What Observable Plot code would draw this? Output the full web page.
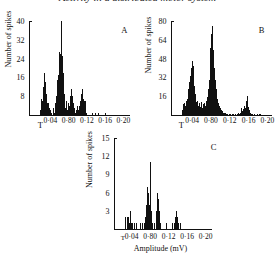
<!DOCTYPE html>
<html>
<head>
<meta charset="utf-8">
<script src="https://cdn.jsdelivr.net/npm/d3@7"></script>
<script src="https://cdn.jsdelivr.net/npm/@observablehq/plot@0.6"></script>
<style>
  html, body { margin: 0; padding: 0; background: #fff; }
  #wrap { position: relative; width: 275px; height: 257px; overflow: hidden; background: #fff; }
  #wrap > .p { position: absolute; }
  #title { position: absolute; left: 0; width: 275px; top: -7px; text-align: center;
    font: italic 10.5px "Liberation Serif", serif; line-height: 1; color: #222; white-space: nowrap; }
</style>
</head>
<body>
<div id="wrap"><div id="title">Activity in a distributed motor system</div></div>
<script>
// ---- data ----
const binWidth = 0.002; // mV
const startA = 0.018;
const countsA = [2,7,6,12,18,14,14,9,5,5,3,2,1,0,3,1,2,5,8,15,17,27,26,40,25,18,9,4,3,6,2,5,4,8,11,8,5,3,1,0,2,4,2,4,6,9,11,7,6,6,2,1,0,0,0,0,0,1,0,0,1,0,0,0,1,0,0,0,0,0,0,1];
const startB = 0.020;
const countsB = [4,9,10,8,12,14,22,28,33,40,46,42,35,25,18,11,12,8,10,7,11,6,9,10,8,12,15,22,30,38,57,69,76,55,40,30,22,14,10,8,6,4,3,2,2,1,2,1,1,0,1,1,0,1,1,0,1,0,1,2,1,2,4,6,3,5,8,6,12,16,7,4,2,1,1,0,1,0,1,0,1,0,1,1];
const startC = 0.026;
const countsC = [2,2,0,2,2,1,3,1,1,0,1,0,1,0,0,1,0,1,0,1,0,1,2,4,7,6,4,11,6,3,1,0,1,0,3,6,5,3,1,0,0,1,0,0,0,1,0,0,0,0,0,1,0,1,1,2,3,2,1,0,1];
const thresholdA = 0.018, thresholdB = 0.017, thresholdC = 0.021;
const yTicksA = [8,16,24,32,40];
const yTicksB = [16,32,48,64,80];
const yTicksC = [3,6,9,12,15];
const xTicks = [0.04,0.08,0.12,0.16,0.20];
const xTickLabels = ["0·04","0·80","0·12","0·16","0·20"];
const yLabel = "Number of spikes";
const xLabel = "Amplitude (mV)";
const panelLetters = ["A","B","C"];

const ink = "#111";

function panel(o) {
  const data = o.counts.map((c, i) => ({x1: o.start + i*binWidth, x2: o.start + (i+1)*binWidth, n: c})).filter(d => d.n > 0);
  const yMax = o.yTicks[o.yTicks.length-1];
  const marks = [
    Plot.rectY(data, {x1: "x1", x2: "x2", y: "n", fill: ink, shapeRendering: "crispEdges"}),
    Plot.ruleY([0], {stroke: ink, strokeWidth: 1}),
    Plot.ruleX([o.xDomain[0]], {y1: 0, y2: yMax, stroke: ink, strokeWidth: 1}),
    Plot.axisY(o.yTicks, {tickSize: 0, tickPadding: 5, label: null, fontSize: 8, fill: ink}),
    Plot.axisY([yMax], {tickSize: -3, text: null, label: null, stroke: ink}),
    Plot.axisX(xTicks, {tickSize: 0, tickPadding: o.xPad, label: null, fontSize: 7.5, fill: ink,
      tickFormat: d => xTickLabels[xTicks.indexOf(d)]}),
    Plot.text([{x: o.thr}], {x: "x", y: () => 0, text: () => "T", dy: o.tDy, fontSize: o.tSize, fill: ink}),
    Plot.text([o.letter], {frameAnchor: "top-right", dx: o.letterDx, dy: 5, fontSize: 8.5, fill: ink}),
    Plot.text([yLabel], {frameAnchor: "left", rotate: -90, dx: o.ylDx, dy: o.ylDy, fontSize: 8, fill: ink})
  ];
  if (o.xLabel) marks.push(Plot.text([o.xLabel], {frameAnchor: "bottom", dy: 21, dx: -3, fontSize: 8, fill: ink}));
  const svg = Plot.plot({
    width: o.width, height: o.height,
    marginLeft: o.mL, marginRight: o.mR, marginTop: o.mT, marginBottom: o.mB,
    style: {fontFamily: "'Liberation Serif', serif", fontSize: "8px", background: "transparent", color: ink, overflow: "visible"},
    x: {domain: o.xDomain, label: null},
    y: {domain: [0, yMax], label: null},
    marks
  });
  svg.classList.add("p");
  svg.style.left = o.left + "px";
  svg.style.top = o.top + "px";
  document.getElementById("wrap").appendChild(svg);
}

panel({counts: countsA, start: startA, thr: thresholdA, yTicks: yTicksA, letter: panelLetters[0],
  left: 0, top: 0, width: 135, height: 135, mL: 29, mR: 5, mT: 21, mB: 20,
  xDomain: [-0.006, 0.2155], xPad: 2, tDy: 10, tSize: 8.5, letterDx: -3, ylDx: -21, ylDy: -1});
panel({counts: countsB, start: startB, thr: thresholdB, yTicks: yTicksB, letter: panelLetters[1],
  left: 140, top: 0, width: 135, height: 135, mL: 31, mR: 3, mT: 21, mB: 20,
  xDomain: [-0.004, 0.211], xPad: 2, tDy: 10, tSize: 8.5, letterDx: -8, ylDx: -23, ylDy: 5});
panel({counts: countsC, start: startC, thr: thresholdC, yTicks: yTicksC, letter: panelLetters[2], xLabel: xLabel,
  left: 80, top: 117, width: 140, height: 140, mL: 34, mR: 8, mT: 21, mB: 28,
  xDomain: [0.003, 0.215], xPad: 4.5, tDy: 8, tSize: 7, letterDx: 4, ylDx: -25, ylDy: 4});
</script>
</body>
</html>
